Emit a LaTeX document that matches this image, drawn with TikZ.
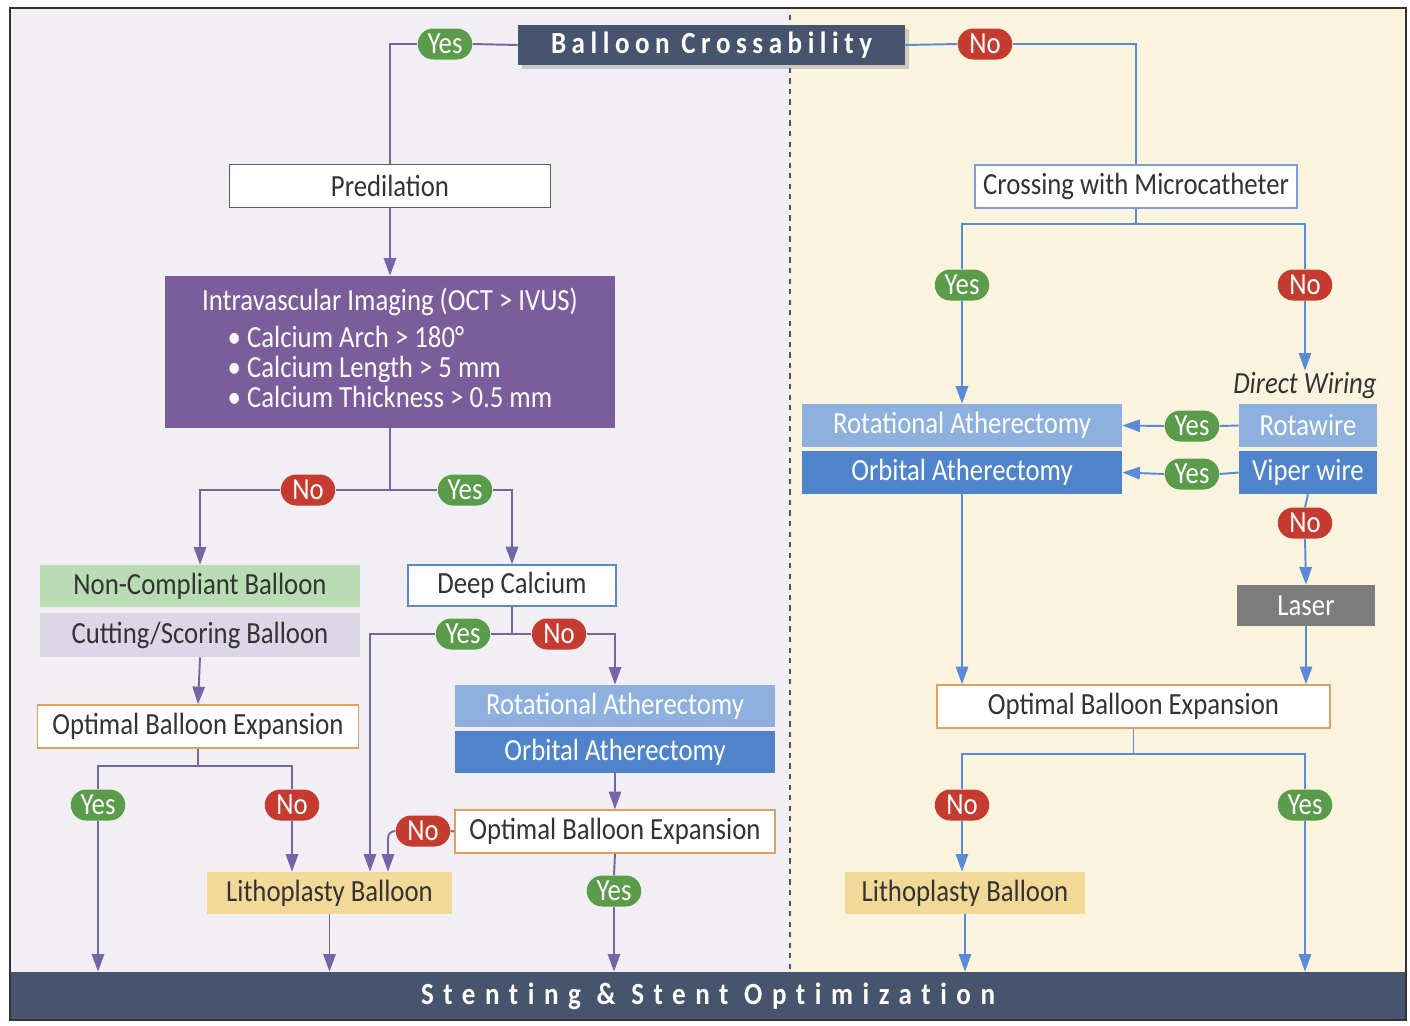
\documentclass[tikz,border=0pt]{standalone}
\usepackage{fontspec}
\setmainfont[FakeStretch=0.87]{Carlito}
\newfontfamily\titlefont[FakeStretch=0.88,LetterSpace=18,Ligatures=NoCommon]{Carlito}
\newfontfamily\barfont[FakeStretch=0.88,LetterSpace=31,Ligatures=NoCommon]{Carlito}
\usepackage{tikz}
\usetikzlibrary{arrows.meta,shapes.misc,shadows,positioning}
\definecolor{Slate}{HTML}{46546E}
\definecolor{Violet}{HTML}{7B5D9C}
\definecolor{LineViolet}{HTML}{7564A6}
\definecolor{LineBlue}{HTML}{5B8BD6}
\definecolor{LeftBg}{HTML}{F1EEF4}
\definecolor{RightBg}{HTML}{FAF3DD}
\definecolor{NcGreen}{HTML}{B9DCB4}
\definecolor{CutGray}{HTML}{DCD6E6}
\definecolor{LithGold}{HTML}{F2D998}
\definecolor{RotBlue}{HTML}{8DB0DF}
\definecolor{OrbBlue}{HTML}{4F84CC}
\definecolor{LaserGray}{HTML}{7D7D7D}
\definecolor{ObeOrange}{HTML}{E0A060}
\definecolor{EdgeBlue}{HTML}{5B86CC}
\definecolor{YesGreen}{HTML}{5A9C4A}
\definecolor{NoRed}{HTML}{C63B2F}
\definecolor{TextGray}{HTML}{333333}

\begin{document}
\begin{tikzpicture}[x=0.02cm, y=-0.02cm, >={Triangle[length=10pt,width=7pt]},
    every node/.style={font=\fontsize{17.5}{19}\selectfont, text=TextGray},
    box/.style={minimum width=6.4cm, minimum height=0.86cm, inner sep=2pt},
    pill/.style={rounded rectangle, minimum width=1.16cm, minimum height=0.62cm, inner sep=1pt, text=white},
    yespill/.style={pill, fill=YesGreen},
    nopill/.style={pill, fill=NoRed},
    pline/.style={draw=LineViolet, line width=1.1pt},
    bline/.style={draw=LineBlue, line width=1.1pt},
    banner/.style={fill=Slate, text=white}]
\useasboundingbox (0,0) rectangle (1410,1025);

% backgrounds
\fill[LeftBg] (10,8) rectangle (790,972);
\fill[RightBg] (790,8) rectangle (1406,972);
\draw[dashed, Slate, line width=0.9pt] (790,15) -- (790,972);

% top
\node[box, banner, minimum width=7.74cm, minimum height=0.8cm, drop shadow={opacity=0.35},
      font=\titlefont\bfseries\fontsize{17.5}{19}\selectfont] (cross) at (711.5,45) {Balloon Crossability};
\node[yespill] (yTop) at (445,44) {Yes};
\node[nopill] (nTop) at (985,44) {No};

% left side
\node[box, draw=TextGray!80, fill=white, line width=0.8pt, minimum width=6.42cm] (pre) at (390,186) {Predilation};
\node[box, fill=Violet, text=white, minimum width=9cm, minimum height=3.04cm, align=center,
      font=\fontsize{17.5}{16.5}\selectfont] (img) at (390,352)
  {Intravascular Imaging (OCT > IVUS)\\[5pt]
   \begin{tabular}{@{}l@{}}
   • Calcium Arch > 180°\\
   • Calcium Length > 5 mm\\
   • Calcium Thickness > 0.5 mm
   \end{tabular}};
\node[nopill] (nImg) at (308,490) {No};
\node[yespill] (yImg) at (465,490) {Yes};
\node[box, fill=NcGreen, minimum height=0.84cm] (nc) at (200,586) {Non-Compliant Balloon};
\node[box, fill=CutGray, minimum height=0.88cm] (cut) at (200,635) {Cutting/Scoring Balloon};
\node[box, draw=EdgeBlue, fill=white, line width=0.8pt, minimum width=4.16cm, minimum height=0.82cm] (deep) at (512,585.5) {Deep Calcium};
\node[yespill] (yDeep) at (463,634) {Yes};
\node[nopill] (nDeep) at (559,634) {No};
\node[box, draw=ObeOrange, fill=white, line width=0.9pt, minimum width=6.42cm] (obeL) at (198,726.5) {Optimal Balloon Expansion};
\coordinate (jL) at (198,766);
\node[yespill] (yObeL) at (98,805) {Yes};
\node[nopill] (nObeL) at (292,805) {No};
\node[box, fill=RotBlue, text=white, minimum height=0.84cm] (rotM) at (615,706) {Rotational Atherectomy};
\node[box, fill=OrbBlue, text=white, minimum height=0.84cm] (orbM) at (615,752) {Orbital Atherectomy};
\node[box, draw=ObeOrange, fill=white, line width=0.9pt] (obeM) at (615,831.5) {Optimal Balloon Expansion};
\node[nopill] (nObeM) at (423,831) {No};
\node[yespill] (yObeM) at (614,891) {Yes};
\node[box, fill=LithGold, minimum width=4.9cm, minimum height=0.84cm] (lithL) at (329.5,893) {Lithoplasty Balloon};

% right side
\node[box, draw=EdgeBlue!80, fill=white, line width=0.8pt, minimum width=6.44cm] (micro) at (1136,186.5) {Crossing with Microcatheter};
\coordinate (jMicro) at (1136,224);
\node[yespill] (yMicro) at (962,285) {Yes};
\node[nopill] (nMicro) at (1305,285) {No};
\node[font=\itshape\fontsize{17.5}{19}\selectfont, inner sep=1pt] (dw) at (1305,386) {Direct Wiring};
\node[box, fill=RotBlue, text=white] (rotR) at (962,425.5) {Rotational Atherectomy};
\node[box, fill=OrbBlue, text=white] (orbR) at (962,472.5) {Orbital Atherectomy};
\node[box, fill=RotBlue, text=white, minimum width=2.76cm] (rw) at (1308,425.5) {Rotawire};
\node[box, fill=OrbBlue, text=white, minimum width=2.76cm] (vw) at (1308,472.5) {Viper wire};
\node[yespill] (yRota) at (1192,426) {Yes};
\node[yespill] (yViper) at (1192,474) {Yes};
\node[nopill] (nViper) at (1305,523) {No};
\node[box, fill=LaserGray, text=white, minimum width=2.76cm, minimum height=0.82cm] (laser) at (1306,605.5) {Laser};
\node[box, draw=ObeOrange, fill=white, line width=0.9pt, minimum width=7.86cm] (obeR) at (1133.5,706.5) {Optimal Balloon Expansion};
\coordinate (jR) at (1133.5,754);
\node[nopill] (nObeR) at (962,805) {No};
\node[yespill] (yObeR) at (1305,805) {Yes};
\node[box, fill=LithGold, minimum width=4.8cm, minimum height=0.84cm] (lithR) at (965,893) {Lithoplasty Balloon};

% bottom bar
\node[box, banner, minimum width=27.92cm, minimum height=0.96cm,
      font=\barfont\bfseries\fontsize{17.5}{19}\selectfont] (bar) at (708,996) {Stenting \& Stent Optimization};

% frame
\draw[TextGray, line width=1.2pt] (10,8) rectangle (1406,1020);

% left connectors
\draw[pline] (cross.west) -- (yTop.east);
\draw[pline] (yTop.west) -| (pre.north);
\draw[pline,->] (pre.south) -- (img.north);
\draw[pline] (img.south) |- (nImg.east);
\draw[pline] (img.south) |- (yImg.west);
\draw[pline,->] (nImg.west) -| (nc.north);
\draw[pline,->] (yImg.east) -| (deep.north);
\draw[pline,->] (cut.south) -- (obeL.north);
\draw[pline] (obeL.south) -- (jL);
\draw[pline] (jL) -| (yObeL.north);
\draw[pline] (jL) -| (nObeL.north);
\draw[pline,->] (yObeL.south) -- (yObeL.south |- bar.north);
\draw[pline,->] (nObeL.south) -- (nObeL.south |- lithL.north);
\draw[pline] (deep.south) |- (yDeep.east);
\draw[pline] (deep.south) |- (nDeep.west);
\draw[pline,->] (yDeep.west) -| ([xshift=0.81cm]lithL.north);
\draw[pline,->] (nDeep.east) -| (rotM.north);
\draw[pline,->] (orbM.south) -- (obeM.north);
\draw[pline] (obeM.west) -- (nObeM.east);
\draw[pline,->,rounded corners=4pt] (nObeM.west) -| ([xshift=1.17cm]lithL.north);
\draw[pline] (obeM.south) -- (yObeM.north);
\draw[pline,->] (yObeM.south) -- (yObeM.south |- bar.north);
\draw[pline,->] (lithL.south) -- (lithL.south |- bar.north);

% right connectors
\draw[bline] (cross.east) -- (nTop.west);
\draw[bline] (nTop.east) -| (micro.north);
\draw[bline] (micro.south) -- (jMicro);
\draw[bline] (jMicro) -| (yMicro.north);
\draw[bline] (jMicro) -| (nMicro.north);
\draw[bline,->] (yMicro.south) -- (rotR.north);
\draw[bline,->] (nMicro.south) -- (dw.north);
\draw[bline] (rw.west) -- (yRota.east);
\draw[bline,->] (yRota.west) -- (rotR.east);
\draw[bline] (vw.west) -- (yViper.east);
\draw[bline,->] (yViper.west) -- (orbR.east);
\draw[bline] (vw.south) -- (nViper.north);
\draw[bline,->] (nViper.south) -- (laser.north);
\draw[bline,->] (laser.south) -- (laser.south |- obeR.north);
\draw[bline,->] (orbR.south) -- (orbR.south |- obeR.north);
\draw[bline] (obeR.south) -- (jR);
\draw[bline] (jR) -| (nObeR.north);
\draw[bline] (jR) -| (yObeR.north);
\draw[bline,->] (nObeR.south) -- (nObeR.south |- lithR.north);
\draw[bline,->] (yObeR.south) -- (yObeR.south |- bar.north);
\draw[bline,->] (lithR.south) -- (lithR.south |- bar.north);
\end{tikzpicture}
\end{document}
